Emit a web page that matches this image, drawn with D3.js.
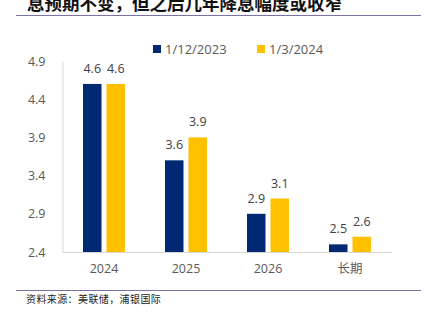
<!DOCTYPE html>
<html>
<head>
<meta charset="utf-8">
<script src="https://cdn.jsdelivr.net/npm/d3@7"></script>
<style>
  body { margin: 0; background: #fff; }
  svg { display: block; }
</style>
</head>
<body>
<div id="chart"></div>
<script>
var categories = ["2024", "2025", "2026", "长期"];
var seriesNames = ["1/12/2023", "1/3/2024"];
var dec2023 = [4.6, 3.6, 2.9, 2.5];
var mar2024 = [4.6, 3.9, 3.1, 2.6];
var yTicks = [2.4, 2.9, 3.4, 3.9, 4.4, 4.9];
var colors = ["#002873", "#ffc000"];
var titleText = "息预期不变，但之后几年降息幅度或收窄";
var sourceText = "资料来源：美联储，浦银国际";

var width = 430, height = 321;
var svg = d3.select("#chart").append("svg")
    .attr("width", width)
    .attr("height", height);

var numFont = "'Open Sans', 'Liberation Sans', sans-serif";
var cjkFont = "'Noto Sans CJK SC', sans-serif";

// title (cut off at the top, as in the original) and rules
svg.append("text")
    .attr("x", 27).attr("y", 10)
    .attr("font-family", cjkFont)
    .attr("font-weight", "bold")
    .attr("font-size", 17.5)
    .attr("fill", "#111")
    .text(titleText);
svg.append("line")
    .attr("x1", 16).attr("x2", 421).attr("y1", 15.5).attr("y2", 15.5)
    .attr("stroke", "#7b73a8").attr("stroke-width", 1.2);
svg.append("line")
    .attr("x1", 16).attr("x2", 421).attr("y1", 290.5).attr("y2", 290.5)
    .attr("stroke", "#7b73a8").attr("stroke-width", 1.2);
svg.append("text")
    .attr("x", 26).attr("y", 303)
    .attr("font-family", cjkFont)
    .attr("font-size", 10)
    .attr("letter-spacing", 0.4)
    .attr("fill", "#222")
    .text(sourceText);

var x0 = d3.scaleBand().domain(categories).range([63, 391]);
var x1 = d3.scaleBand().domain(seriesNames).range([-21, 21]).paddingInner(0.213);
var y = d3.scaleLinear().domain([2.4, 4.9]).range([252, 61]);

// y axis
var yAxis = svg.append("g")
    .attr("transform", "translate(62.5,0)")
    .call(d3.axisLeft(y).tickValues(yTicks).tickFormat(d3.format(".1f")).tickSize(0).tickPadding(17));
yAxis.select(".domain").attr("stroke", "#d9d9d9");
yAxis.selectAll("text")
    .attr("font-family", numFont).attr("font-size", 12.5).attr("fill", "#595959");

// x axis
var xAxis = svg.append("g")
    .attr("transform", "translate(0,252.5)")
    .call(d3.axisBottom(x0).tickSize(0).tickPadding(12));
xAxis.select(".domain").attr("stroke", "#d9d9d9").attr("d", "M62.5,0H392");
xAxis.selectAll("text")
    .attr("font-family", function(d) { return d === "长期" ? cjkFont : numFont; })
    .attr("font-size", 12.5).attr("fill", "#595959");

var rows = categories.map(function(c, i) {
    return { cat: c, vals: [dec2023[i], mar2024[i]] };
});

var groups = svg.append("g").selectAll("g")
    .data(rows).enter().append("g")
    .attr("transform", function(d) { return "translate(" + (x0(d.cat) + x0.bandwidth() / 2) + ",0)"; });

groups.selectAll("rect")
    .data(function(d) { return d.vals.map(function(v, j) { return { s: seriesNames[j], v: v, j: j }; }); })
    .enter().append("rect")
    .attr("x", function(d) { return x1(d.s); })
    .attr("width", x1.bandwidth())
    .attr("y", function(d) { return y(d.v); })
    .attr("height", function(d) { return y(2.4) - y(d.v); })
    .attr("fill", function(d) { return colors[d.j]; });

groups.selectAll("text.val")
    .data(function(d) { return d.vals.map(function(v, j) { return { s: seriesNames[j], v: v }; }); })
    .enter().append("text")
    .attr("class", "val")
    .attr("x", function(d) { return x1(d.s) + x1.bandwidth() / 2; })
    .attr("y", function(d) { return y(d.v) - 11; })
    .attr("text-anchor", "middle")
    .attr("font-family", numFont).attr("font-size", 12.5).attr("fill", "#404040")
    .text(function(d) { return d3.format(".1f")(d.v); });

// legend
var legendX = [153, 257];
var legend = svg.append("g").selectAll("g")
    .data(seriesNames).enter().append("g")
    .attr("transform", function(d, i) { return "translate(" + legendX[i] + ",45)"; });
legend.append("rect")
    .attr("width", 8).attr("height", 8)
    .attr("fill", function(d, i) { return colors[i]; });
legend.append("text")
    .attr("x", 12).attr("y", 9)
    .attr("font-family", numFont).attr("font-size", 13).attr("fill", "#595959")
    .text(function(d) { return d; });
</script>
</body>
</html>
